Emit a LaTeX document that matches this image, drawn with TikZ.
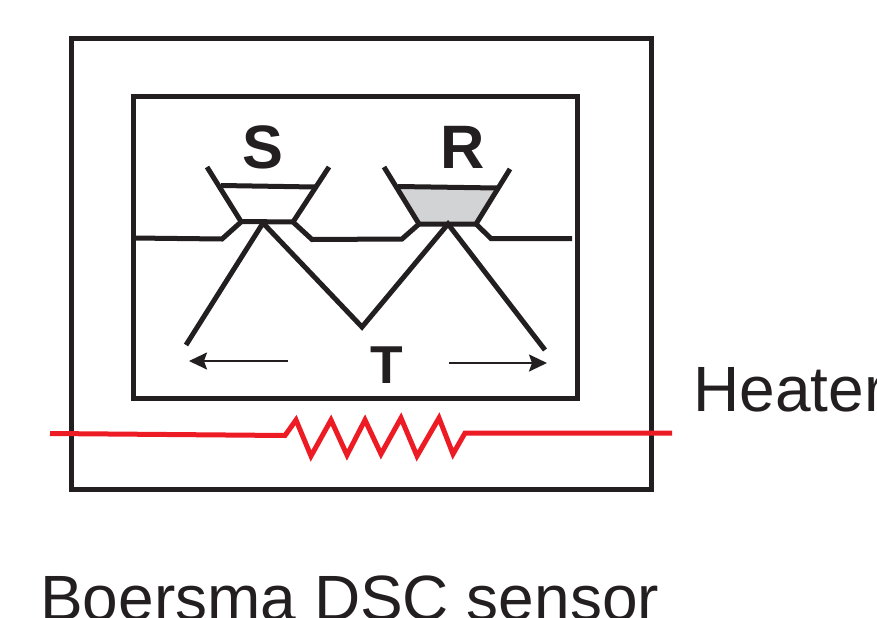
\documentclass[tikz,border=0pt]{standalone}
\usepackage{fontspec}
\setmainfont{Liberation Sans}
\usetikzlibrary{arrows.meta}
\definecolor{inkblack}{RGB}{35,31,32}
\definecolor{heaterred}{RGB}{237,28,36}
\definecolor{pangray}{RGB}{209,211,212}
\tikzset{
  wall/.style={draw=inkblack,line width=3.75pt},
  thin wire/.style={draw=inkblack,line width=1.6pt,-{Stealth[length=18*0.75pt,width=17*0.75pt,inset=3*0.75pt]}},
  heat wire/.style={draw=heaterred,line width=3.75pt},
  pan label/.style={inner sep=0pt,text=inkblack,font=\fontsize{46}{46}\selectfont\bfseries},
  plain label/.style={inner sep=0pt,anchor=base west,text=inkblack,font=\fontsize{48}{48}\selectfont},
}
\begin{document}
\begin{tikzpicture}[x=0.75pt,y=0.75pt,yscale=-1,xscale=1]
\useasboundingbox (0,0) rectangle (877,617);
\clip (0,0) rectangle (877,617);

%Shape: outer and inner box
\draw [wall] (71,39) rectangle (651,489);
\draw [wall] (133,96) rectangle (577,398);

%Shape: reference pan filling
\fill [pangray] (398,187) -- (497,188) -- (476,224) -- (419,224) -- cycle;

%Straight Lines: sample pan
\draw [wall] (207,167) -- (241,221.5) -- (293,222) -- (329,167);
\draw [wall] (221,185.5) -- (315,187);
%Straight Lines: reference pan
\draw [wall] (384,167) -- (419,224) -- (476,224) -- (510,169);
\draw [wall] (398,186.5) -- (497,188);

%Straight Lines: disc
\draw [wall] (133,238) -- (222,239) -- (241,222);
\draw [wall] (293,222) -- (312,239.5) -- (402,239) -- (419,224);
\draw [wall] (476,224) -- (491,238.5) -- (572,238.5);

%Straight Lines: thermocouple
\draw [wall] (186,345) -- (263,223) -- (362,327) -- (448,224) -- (545,350);

%Straight Lines: temperature arrows
\coordinate (leftstart) at (288,361);
\coordinate (leftend) at (189,361);
\coordinate (rightstart) at (449,363);
\coordinate (rightend) at (547,363);
\draw [thin wire] (leftstart) -- (leftend);
\draw [thin wire] (rightstart) -- (rightend);

%Straight Lines: heater
\draw [heat wire] (50,433.5) -- (285,435.5) -- (296,420) -- (311,456) -- (331,420) -- (347,455) -- (365,420) -- (381,454) -- (401,418) -- (417,456) -- (439,418) -- (453,454) -- (465,433) -- (672,433);

% Text Node
\node (samplelabel) [pan label] at (263,147) {S};
% Text Node
\node (reflabel) [pan label] at (463,147) {R};
% Text Node
\node (templabel) [pan label,font=\fontsize{40}{40}\selectfont\bfseries] at (387,365) {T};
% Text Node
\node (heaterlabel) [plain label] at (693,411) {Heater};
% Text Node
\node (sensorlabel) [plain label] at (40,620) {Boersma DSC sensor};

\end{tikzpicture}
\end{document}
